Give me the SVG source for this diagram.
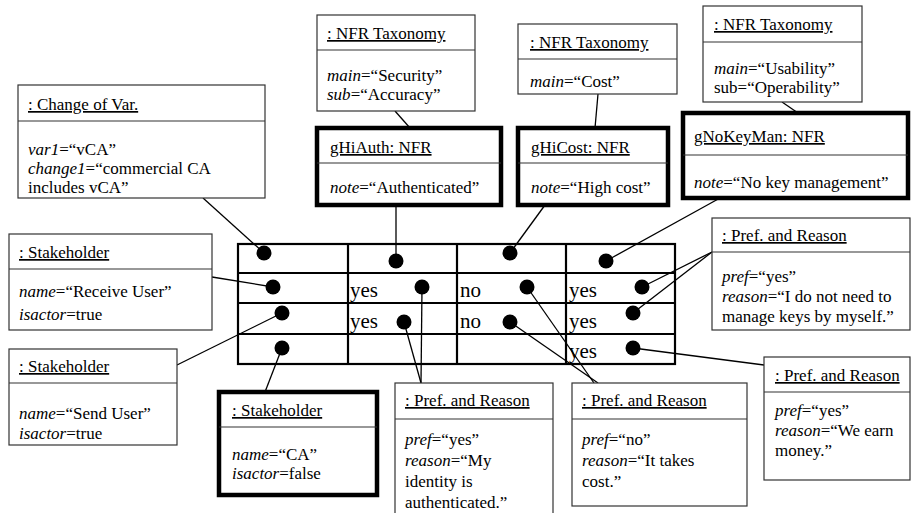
<svg xmlns="http://www.w3.org/2000/svg" width="912" height="513" viewBox="0 0 912 513">
<style>
text{font-family:"Liberation Serif","Times New Roman",serif;font-size:17px;fill:#000}
.h{text-decoration:underline}
.i{font-style:italic}
.box{fill:#fff;stroke:#333;stroke-width:1.2}
.thick{fill:#fff;stroke:#000;stroke-width:4.5}
.div{stroke:#333;stroke-width:1.2}
.cell{font-size:21px}
.ln{stroke:#000;stroke-width:1.3;fill:none}
.tbl{fill:none;stroke:#000;stroke-width:2.2}
.dot{fill:#000}
</style>
<rect width="912" height="513" fill="#fff"/>

<g id="connectors">
<line class="ln" x1="203" y1="198" x2="264" y2="253"/>
<line class="ln" x1="396" y1="205" x2="396" y2="261"/>
<line class="ln" x1="545" y1="205" x2="510" y2="253"/>
<line class="ln" x1="720" y1="198" x2="606" y2="261"/>
<line class="ln" x1="395" y1="111" x2="410" y2="128"/>
<line class="ln" x1="598" y1="94" x2="595" y2="128"/>
<line class="ln" x1="782" y1="102" x2="798" y2="113"/>
<line class="ln" x1="212" y1="277" x2="273" y2="287"/>
<line class="ln" x1="177" y1="365" x2="282" y2="313"/>
<line class="ln" x1="265" y1="392" x2="282" y2="348"/>
<line class="ln" x1="712" y1="252" x2="642" y2="287"/>
<line class="ln" x1="712" y1="252" x2="633" y2="313"/>
<line class="ln" x1="764" y1="365" x2="633" y2="348"/>
<line class="ln" x1="421" y1="383" x2="422" y2="287"/>
<line class="ln" x1="421" y1="383" x2="404" y2="322"/>
<line class="ln" x1="594" y1="383" x2="527" y2="287"/>
<line class="ln" x1="598" y1="383" x2="510" y2="322"/>
</g>

<g id="table">
<rect class="tbl" x="238" y="244" width="437" height="120"/>
<line class="tbl" x1="348" y1="244" x2="348" y2="364"/>
<line class="tbl" x1="457" y1="244" x2="457" y2="364"/>
<line class="tbl" x1="566" y1="244" x2="566" y2="364"/>
<line class="tbl" x1="238" y1="273" x2="675" y2="273"/>
<line class="tbl" x1="238" y1="303" x2="675" y2="303"/>
<line class="tbl" x1="238" y1="334" x2="675" y2="334"/>
<text class="cell" x="350" y="297">yes</text>
<text class="cell" x="460" y="297">no</text>
<text class="cell" x="569" y="297">yes</text>
<text class="cell" x="350" y="328">yes</text>
<text class="cell" x="460" y="328">no</text>
<text class="cell" x="569" y="328">yes</text>
<text class="cell" x="569" y="358">yes</text>
<circle class="dot" cx="264" cy="253" r="7.5"/>
<circle class="dot" cx="396" cy="261" r="7.5"/>
<circle class="dot" cx="510" cy="253" r="7.5"/>
<circle class="dot" cx="606" cy="261" r="7.5"/>
<circle class="dot" cx="273" cy="287" r="7.5"/>
<circle class="dot" cx="422" cy="287" r="7.5"/>
<circle class="dot" cx="527" cy="287" r="7.5"/>
<circle class="dot" cx="642" cy="287" r="7.5"/>
<circle class="dot" cx="282" cy="313" r="7.5"/>
<circle class="dot" cx="404" cy="322" r="7.5"/>
<circle class="dot" cx="510" cy="322" r="7.5"/>
<circle class="dot" cx="633" cy="313" r="7.5"/>
<circle class="dot" cx="282" cy="348" r="7.5"/>
<circle class="dot" cx="633" cy="348" r="7.5"/>
</g>

<g id="changeOfVar">
<rect class="box" x="18" y="85" width="247" height="113"/>
<line class="div" x1="18" y1="121" x2="265" y2="121"/>
<text class="h" x="28" y="110">: Change of Var.</text>
<text x="28" y="155"><tspan class="i">var1</tspan>=“vCA”</text>
<text x="28" y="174"><tspan class="i">change1</tspan>=“commercial CA</text>
<text x="28" y="193">includes vCA”</text>
</g>

<g id="taxSecurity">
<rect class="box" x="317" y="15" width="158" height="96"/>
<line class="div" x1="317" y1="50" x2="475" y2="50"/>
<text class="h" x="327" y="39">: NFR Taxonomy</text>
<text x="327" y="81"><tspan class="i">main</tspan>=“Security”</text>
<text x="327" y="100"><tspan class="i">sub</tspan>=“Accuracy”</text>
</g>

<g id="gHiAuth">
<rect class="thick" x="317" y="128" width="184" height="77"/>
<line class="div" x1="317" y1="163" x2="501" y2="163"/>
<text class="h" x="330" y="153">gHiAuth: NFR</text>
<text x="330" y="193"><tspan class="i">note</tspan>=“Authenticated”</text>
</g>

<g id="taxCost">
<rect class="box" x="518" y="24" width="159" height="70"/>
<line class="div" x1="518" y1="59" x2="677" y2="59"/>
<text class="h" x="530" y="48">: NFR Taxonomy</text>
<text x="530" y="87"><tspan class="i">main</tspan>=“Cost”</text>
</g>

<g id="gHiCost">
<rect class="thick" x="518" y="128" width="150" height="77"/>
<line class="div" x1="518" y1="163" x2="668" y2="163"/>
<text class="h" x="531" y="153">gHiCost: NFR</text>
<text x="531" y="193"><tspan class="i">note</tspan>=“High cost”</text>
</g>

<g id="taxUsability">
<rect class="box" x="703" y="6" width="159" height="96"/>
<line class="div" x1="703" y1="42" x2="862" y2="42"/>
<text class="h" x="714" y="30">: NFR Taxonomy</text>
<text x="714" y="74"><tspan class="i">main</tspan>=“Usability”</text>
<text x="714" y="93">sub=“Operability”</text>
</g>

<g id="gNoKeyMan">
<rect class="thick" x="683" y="113" width="225" height="85"/>
<line class="div" x1="683" y1="155" x2="908" y2="155"/>
<text class="h" x="694" y="142">gNoKeyMan: NFR</text>
<text x="694" y="188"><tspan class="i">note</tspan>=“No key management”</text>
</g>

<g id="stakeholderReceive">
<rect class="box" x="9" y="234" width="203" height="96"/>
<line class="div" x1="9" y1="269" x2="212" y2="269"/>
<text class="h" x="19" y="258">: Stakeholder</text>
<text x="19" y="297"><tspan class="i">name</tspan>=“Receive User”</text>
<text x="19" y="320"><tspan class="i">isactor</tspan>=true</text>
</g>

<g id="stakeholderSend">
<rect class="box" x="9" y="349" width="168" height="96"/>
<line class="div" x1="9" y1="383" x2="177" y2="383"/>
<text class="h" x="19" y="372">: Stakeholder</text>
<text x="19" y="419"><tspan class="i">name</tspan>=“Send User”</text>
<text x="19" y="439"><tspan class="i">isactor</tspan>=true</text>
</g>

<g id="stakeholderCA">
<rect class="thick" x="219" y="392" width="158" height="103"/>
<line class="div" x1="219" y1="427" x2="377" y2="427"/>
<text class="h" x="232" y="416">: Stakeholder</text>
<text x="232" y="460"><tspan class="i">name</tspan>=“CA”</text>
<text x="232" y="479"><tspan class="i">isactor</tspan>=false</text>
</g>

<g id="prefKeys">
<rect class="box" x="712" y="218" width="198" height="112"/>
<line class="div" x1="712" y1="252" x2="910" y2="252"/>
<text class="h" x="722" y="241">: Pref. and Reason</text>
<text x="722" y="282"><tspan class="i">pref</tspan>=“yes”</text>
<text x="722" y="302"><tspan class="i">reason</tspan>=“I do not need to</text>
<text x="722" y="322">manage keys by myself.”</text>
</g>

<g id="prefMoney">
<rect class="box" x="764" y="357" width="146" height="123"/>
<line class="div" x1="764" y1="392" x2="910" y2="392"/>
<text class="h" x="775" y="381">: Pref. and Reason</text>
<text x="775" y="416"><tspan class="i">pref</tspan>=“yes”</text>
<text x="775" y="436"><tspan class="i">reason</tspan>=“We earn</text>
<text x="775" y="456">money.”</text>
</g>

<g id="prefIdentity">
<rect class="box" x="395" y="383" width="158" height="135"/>
<line class="div" x1="395" y1="419" x2="553" y2="419"/>
<text class="h" x="405" y="406">: Pref. and Reason</text>
<text x="405" y="445"><tspan class="i">pref</tspan>=“yes”</text>
<text x="405" y="466"><tspan class="i">reason</tspan>=“My</text>
<text x="405" y="487">identity is</text>
<text x="405" y="508">authenticated.”</text>
</g>

<g id="prefCost">
<rect class="box" x="572" y="383" width="175" height="123"/>
<line class="div" x1="572" y1="419" x2="747" y2="419"/>
<text class="h" x="582" y="406">: Pref. and Reason</text>
<text x="582" y="445"><tspan class="i">pref</tspan>=“no”</text>
<text x="582" y="466"><tspan class="i">reason</tspan>=“It takes</text>
<text x="582" y="487">cost.”</text>
</g>
</svg>
